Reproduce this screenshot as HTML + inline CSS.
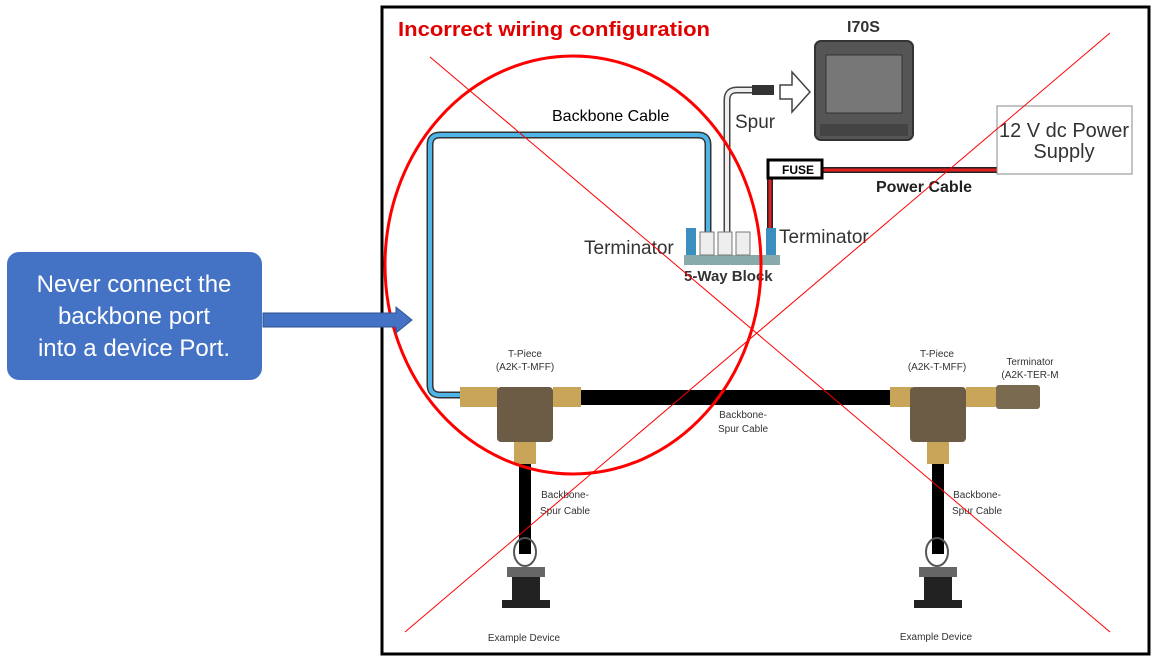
<!DOCTYPE html>
<html><head><meta charset="utf-8"><style>
body{margin:0;width:1159px;height:660px;background:#fff;overflow:hidden;font-family:"Liberation Sans",sans-serif}
</style></head><body>
<svg width="1159" height="660" xmlns="http://www.w3.org/2000/svg" font-family="Liberation Sans, sans-serif">
<rect x="382" y="7" width="767" height="647" fill="#fff" stroke="#000" stroke-width="3"/>
<text x="398" y="36" font-size="20" font-weight="bold" fill="#e00000" textLength="312" lengthAdjust="spacingAndGlyphs">Incorrect wiring configuration</text>
<!-- blue backbone -->
<path d="M462,395 H440 Q430,395 430,385 V145 Q430,135 440,135 H698 Q708,135 708,145 V232" fill="none" stroke="#333" stroke-width="7"/>
<path d="M462,395 H440 Q430,395 430,385 V145 Q430,135 440,135 H698 Q708,135 708,145 V232" fill="none" stroke="#4fb4e6" stroke-width="4"/>
<text x="552" y="121" font-size="16">Backbone Cable</text>
<!-- spur -->
<path d="M727,232 V100 Q727,90 737,90 H770" fill="none" stroke="#444" stroke-width="7"/>
<path d="M727,232 V100 Q727,90 737,90 H770" fill="none" stroke="#eee" stroke-width="4"/>
<rect x="752" y="85" width="22" height="10" fill="#333"/>
<path d="M780,85 H792 V72 L810,92 L792,112 V99 H780Z" fill="#fff" stroke="#444" stroke-width="1.5"/>
<text x="735" y="128" font-size="19" fill="#333">Spur</text>
<!-- I70S -->
<text x="847" y="32" font-size="16" font-weight="bold" fill="#333">I70S</text>
<rect x="815" y="41" width="98" height="99" rx="6" fill="#555" stroke="#333" stroke-width="2"/>
<rect x="826" y="55" width="76" height="58" fill="#777" stroke="#333"/>
<rect x="820" y="124" width="88" height="12" fill="#444"/>
<!-- power -->
<path d="M770,228 V178 Q770,170 778,170 H997" fill="none" stroke="#222" stroke-width="6"/>
<path d="M770,228 V178 Q770,170 778,170 H997" fill="none" stroke="#e02020" stroke-width="3"/>
<rect x="768" y="160" width="54" height="18" fill="#fff" stroke="#000" stroke-width="3"/>
<text x="782" y="174" font-size="12" font-weight="bold">FUSE</text>
<rect x="997" y="106" width="135" height="68" fill="#fff" stroke="#888"/>
<text x="1064" y="137" font-size="20" text-anchor="middle" fill="#333">12 V dc Power</text>
<text x="1064" y="158" font-size="20" text-anchor="middle" fill="#333">Supply</text>
<text x="876" y="192" font-size="16" font-weight="bold" fill="#222">Power Cable</text>
<!-- 5 way block -->
<rect x="684" y="255" width="96" height="10" fill="#8aa" />
<rect x="686" y="228" width="10" height="27" fill="#3a8fbf"/>
<rect x="700" y="232" width="14" height="23" fill="#eee" stroke="#777"/>
<rect x="718" y="232" width="14" height="23" fill="#eee" stroke="#777"/>
<rect x="736" y="232" width="14" height="23" fill="#eee" stroke="#777"/>
<rect x="766" y="228" width="10" height="27" fill="#3a8fbf"/>
<text x="584" y="254" font-size="19" fill="#333">Terminator</text>
<text x="779" y="243" font-size="19" fill="#333">Terminator</text>
<text x="684" y="281" font-size="15" font-weight="bold" fill="#333">5-Way Block</text>
<!-- bottom backbone -->
<rect x="555" y="390" width="355" height="15" fill="#000"/>
<rect x="460" y="387" width="38" height="20" fill="#c9a55a"/>
<rect x="497" y="387" width="56" height="55" rx="4" fill="#6d5c45"/>
<rect x="553" y="387" width="28" height="20" fill="#c9a55a"/>
<rect x="890" y="387" width="22" height="20" fill="#c9a55a"/>
<rect x="910" y="387" width="56" height="55" rx="4" fill="#6d5c45"/>
<rect x="966" y="387" width="30" height="20" fill="#c9a55a"/>
<rect x="996" y="385" width="44" height="24" rx="3" fill="#7a6a50"/>
<rect x="514" y="442" width="22" height="22" fill="#c9a55a"/>
<rect x="927" y="442" width="22" height="22" fill="#c9a55a"/>
<rect x="519" y="464" width="12" height="90" fill="#000"/>
<rect x="932" y="464" width="12" height="90" fill="#000"/>
<ellipse cx="525" cy="552" rx="11" ry="14" fill="none" stroke="#555" stroke-width="2"/>
<ellipse cx="937" cy="552" rx="11" ry="14" fill="none" stroke="#555" stroke-width="2"/>
<g fill="#222"><rect x="507" y="567" width="38" height="10" fill="#666"/><rect x="512" y="577" width="28" height="30"/><rect x="502" y="600" width="48" height="8"/></g>
<g fill="#222"><rect x="919" y="567" width="38" height="10" fill="#666"/><rect x="924" y="577" width="28" height="30"/><rect x="914" y="600" width="48" height="8"/></g>
<g font-size="10" fill="#333" text-anchor="middle">
<text x="525" y="357">T-Piece</text><text x="525" y="370">(A2K-T-MFF)</text>
<text x="937" y="357">T-Piece</text><text x="937" y="370">(A2K-T-MFF)</text>
<text x="1030" y="365">Terminator</text><text x="1030" y="378">(A2K-TER-M</text>
<text x="743" y="418">Backbone-</text><text x="743" y="432">Spur Cable</text>
<text x="565" y="498">Backbone-</text><text x="565" y="514">Spur Cable</text>
<text x="977" y="498">Backbone-</text><text x="977" y="514">Spur Cable</text>
<text x="524" y="641">Example Device</text><text x="936" y="640">Example Device</text>
</g>
<!-- red marks -->
<ellipse cx="573" cy="265" rx="188" ry="209" fill="none" stroke="#ff0000" stroke-width="3"/>
<line x1="430" y1="57" x2="1110" y2="632" stroke="#ff0000" stroke-width="1"/>
<line x1="1110" y1="33" x2="405" y2="632" stroke="#ff0000" stroke-width="1"/>
<!-- callout -->
<rect x="7" y="252" width="255" height="128" rx="12" fill="#4472c4"/>
<text fill="#fff" font-size="24" text-anchor="middle"><tspan x="134" y="292">Never connect the</tspan><tspan x="134" y="324">backbone port</tspan><tspan x="134" y="356">into a device Port.</tspan></text>
<path d="M263,313 H396 V307 L412,320 L396,333 V327 H263Z" fill="#4472c4" stroke="#2f528f" stroke-width="1"/>
</svg>
</body></html>
